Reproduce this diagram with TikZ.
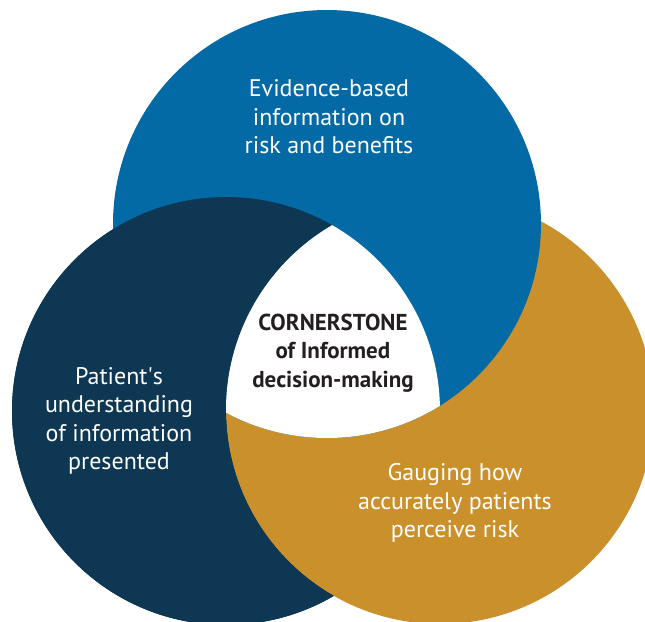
\documentclass[tikz,border=0pt]{standalone}
\usepackage{fontspec}
\setsansfont{PT Sans}
\usepackage{xcolor}
\usetikzlibrary{positioning}

\definecolor{evblue}{RGB}{4,106,166}
\definecolor{ptnavy}{RGB}{13,55,82}
\definecolor{gagold}{RGB}{202,144,44}
\definecolor{coretext}{RGB}{35,31,32}

\begin{document}
\begin{tikzpicture}[x=0.5pt,y=-0.5pt,
    circtext/.style={align=center,text=white,font=\sffamily\fontsize{12}{14.2}\selectfont},
    coretxt/.style={align=center,text=coretext,font=\sffamily\bfseries\fontsize{11.5}{14.2}\selectfont}]
    \useasboundingbox (0,0) rectangle (645,622);
    \def\rad{214}
    \coordinate (cb) at (327,224);
    \coordinate (cn) at (226,411);
    \coordinate (cg) at (440,410);
    % circles: navy over blue, blue over gold, gold over navy
    \fill[ptnavy] (cn) circle (\rad);
    \fill[gagold] (cg) circle (\rad);
    \fill[evblue] (cb) circle (\rad);
    \begin{scope}[even odd rule]
      \clip (-50,-50) rectangle (700,700) (cg) circle (\rad);
      \fill[ptnavy] (cn) circle (\rad);
    \end{scope}
    % the core where all three meet
    \begin{scope}
      \clip (cn) circle (\rad);
      \clip (cg) circle (\rad);
      \fill[white] (cb) circle (\rad);
    \end{scope}
    \node[circtext] (evid) at (329,117) {Evidence-based\\information on\\risk and benefits};
    \node[circtext] (undr) at (119,421) {Patient\textquotesingle s\\understanding\\of information\\presented};
    \node[circtext] (gaug) at (455,503) {Gauging how\\accurately patients\\perceive risk};
    \node[coretxt] (core) at (333,353) {CORNERSTONE\\of Informed\\decision-making};
\end{tikzpicture}
\end{document}
